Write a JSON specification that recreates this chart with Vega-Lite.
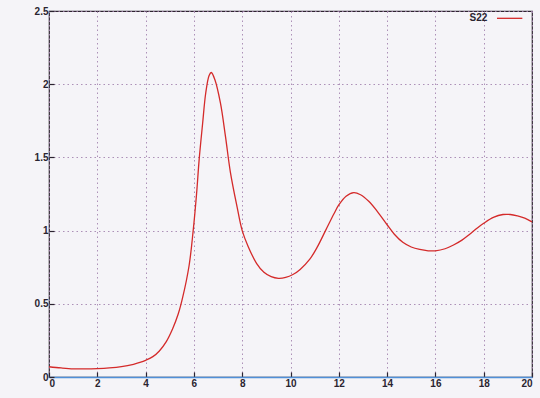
{
  "$schema": "https://vega.github.io/schema/vega-lite/v6.json",
  "width": 483,
  "height": 366,
  "autosize": {"type": "none"},
  "padding": {"left": 49, "top": 11, "right": 8, "bottom": 21},
  "background": "#f5f4f8",
  "config": {
    "view": {"stroke": "#2e2630", "strokeWidth": 1.2},
    "axis": {
      "labelFont": "Liberation Sans",
      "labelFontSize": 10,
      "labelFontWeight": "bold",
      "labelColor": "#2a2430",
      "tickColor": "#2a2430",
      "tickSize": -5,
      "tickWidth": 1.2,
      "domain": false,
      "grid": true,
      "gridColor": "#a585b0",
      "gridDash": [1.5, 3],
      "gridWidth": 1,
      "gridOpacity": 0.9,
      "title": null
    }
  },
  "datasets": {
    "s22": [
      {"r": 0, "s": 0.07}, {"r": 0.5, "s": 0.062}, {"r": 1, "s": 0.056}, {"r": 1.5, "s": 0.055},
      {"r": 2, "s": 0.057}, {"r": 2.5, "s": 0.062}, {"r": 3, "s": 0.071}, {"r": 3.5, "s": 0.087},
      {"r": 3.8, "s": 0.101}, {"r": 4, "s": 0.114}, {"r": 4.3, "s": 0.139}, {"r": 4.57, "s": 0.178},
      {"r": 4.85, "s": 0.24}, {"r": 5.12, "s": 0.33}, {"r": 5.35, "s": 0.43}, {"r": 5.53, "s": 0.54},
      {"r": 5.8, "s": 0.76}, {"r": 5.97, "s": 1.0}, {"r": 6.11, "s": 1.25}, {"r": 6.22, "s": 1.49},
      {"r": 6.36, "s": 1.73}, {"r": 6.49, "s": 1.94}, {"r": 6.63, "s": 2.06}, {"r": 6.72, "s": 2.08},
      {"r": 6.87, "s": 2.03}, {"r": 7.1, "s": 1.87}, {"r": 7.31, "s": 1.64}, {"r": 7.51, "s": 1.4},
      {"r": 7.79, "s": 1.16}, {"r": 8.0, "s": 1.0}, {"r": 8.25, "s": 0.89}, {"r": 8.6, "s": 0.775},
      {"r": 8.9, "s": 0.715}, {"r": 9.2, "s": 0.685}, {"r": 9.5, "s": 0.674}, {"r": 9.8, "s": 0.68},
      {"r": 10.1, "s": 0.7}, {"r": 10.4, "s": 0.735}, {"r": 10.8, "s": 0.805}, {"r": 11.1, "s": 0.885},
      {"r": 11.45, "s": 1.0}, {"r": 11.8, "s": 1.115}, {"r": 12.0, "s": 1.175}, {"r": 12.3, "s": 1.235},
      {"r": 12.62, "s": 1.26}, {"r": 12.9, "s": 1.245}, {"r": 13.24, "s": 1.2}, {"r": 13.6, "s": 1.13},
      {"r": 14.0, "s": 1.04}, {"r": 14.3, "s": 0.975}, {"r": 14.65, "s": 0.92}, {"r": 15.0, "s": 0.888},
      {"r": 15.35, "s": 0.871}, {"r": 15.7, "s": 0.862}, {"r": 16.0, "s": 0.862}, {"r": 16.4, "s": 0.876},
      {"r": 16.73, "s": 0.9}, {"r": 17.1, "s": 0.935}, {"r": 17.42, "s": 0.975}, {"r": 17.75, "s": 1.02},
      {"r": 18.0, "s": 1.05}, {"r": 18.4, "s": 1.09}, {"r": 18.8, "s": 1.11}, {"r": 19.1, "s": 1.11},
      {"r": 19.4, "s": 1.1}, {"r": 19.7, "s": 1.085}, {"r": 20, "s": 1.06}
    ]
  },
  "layer": [
    {
      "data": {"name": "s22"},
      "mark": {"type": "line", "color": "#d42a2a", "strokeWidth": 1.3, "interpolate": "catmull-rom"},
      "encoding": {
        "x": {"field": "r", "type": "quantitative", "scale": {"domain": [0, 20], "nice": false},
              "axis": {"values": [0, 2, 4, 6, 8, 10, 12, 14, 16, 18, 20], "format": "~g", "labelPadding": 6,
                       "domain": true, "domainColor": "#4f8fd8", "domainWidth": 1.6}},
        "y": {"field": "s", "type": "quantitative", "scale": {"domain": [0, 2.5], "nice": false},
              "axis": {"values": [0, 0.5, 1, 1.5, 2, 2.5], "format": "~g", "labelPadding": 6}}
      }
    },
    {
      "data": {"values": [{"label": "S22", "r": 18.15, "s": 2.45}]},
      "mark": {"type": "text", "align": "right", "baseline": "middle", "font": "Liberation Sans", "fontSize": 10, "fontWeight": "bold", "color": "#2a2430"},
      "encoding": {
        "x": {"field": "r", "type": "quantitative"},
        "y": {"field": "s", "type": "quantitative"},
        "text": {"field": "label"}
      }
    },
    {
      "data": {"values": [{"r": 18.55, "r2": 19.6, "s": 2.45}]},
      "mark": {"type": "rule", "color": "#d42a2a", "strokeWidth": 1.3},
      "encoding": {
        "x": {"field": "r", "type": "quantitative"},
        "x2": {"field": "r2"},
        "y": {"field": "s", "type": "quantitative"}
      }
    }
  ]
}
